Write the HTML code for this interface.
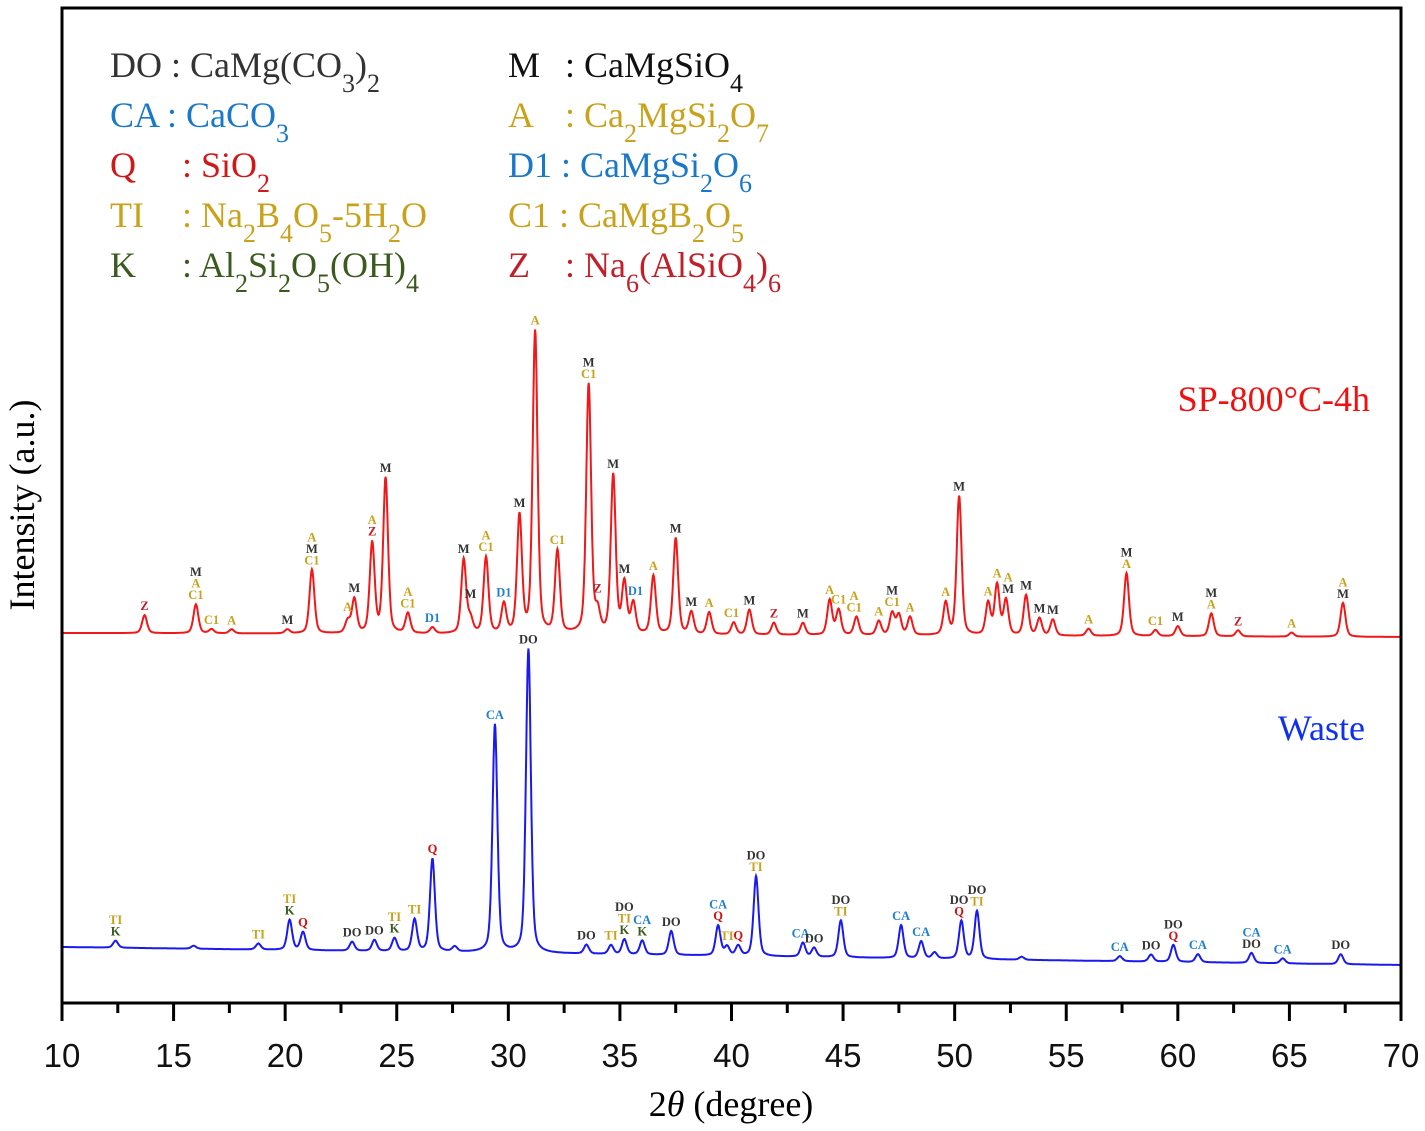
<!DOCTYPE html>
<html><head><meta charset="utf-8"><style>
body{margin:0;background:#fff}
svg{display:block}
.lg{font-family:"Liberation Serif",serif;font-size:36px}
.tk{font-family:"Liberation Sans",sans-serif;font-size:33px}
.pk{font-family:"Liberation Serif",serif;font-size:12.5px;font-weight:bold;text-anchor:middle}
</style></head><body>
<svg id="chart" width="1425" height="1131" viewBox="0 0 1425 1131" xmlns="http://www.w3.org/2000/svg">
<g class="lg">
<text x="110" y="77" fill="#333">DO : CaMg(CO<tspan baseline-shift="sub" font-size="26">3</tspan>)<tspan baseline-shift="sub" font-size="26">2</tspan></text>
<text x="110" y="127" fill="#1a78c8">CA : CaCO<tspan baseline-shift="sub" font-size="26">3</tspan></text>
<text x="110" y="177" fill="#d01818">Q<tspan x="182">: SiO</tspan><tspan baseline-shift="sub" font-size="26">2</tspan></text>
<text x="110" y="227" fill="#c9a21b">TI<tspan x="182">: Na</tspan><tspan baseline-shift="sub" font-size="26">2</tspan>B<tspan baseline-shift="sub" font-size="26">4</tspan>O<tspan baseline-shift="sub" font-size="26">5</tspan>-5H<tspan baseline-shift="sub" font-size="26">2</tspan>O</text>
<text x="110" y="277" fill="#3a5a1e">K<tspan x="182">: Al</tspan><tspan baseline-shift="sub" font-size="26">2</tspan>Si<tspan baseline-shift="sub" font-size="26">2</tspan>O<tspan baseline-shift="sub" font-size="26">5</tspan>(OH)<tspan baseline-shift="sub" font-size="26">4</tspan></text>
<text x="508" y="77" fill="#111">M<tspan x="565">: CaMgSiO</tspan><tspan baseline-shift="sub" font-size="26">4</tspan></text>
<text x="508" y="127" fill="#c9a21b">A<tspan x="565">: Ca</tspan><tspan baseline-shift="sub" font-size="26">2</tspan>MgSi<tspan baseline-shift="sub" font-size="26">2</tspan>O<tspan baseline-shift="sub" font-size="26">7</tspan></text>
<text x="508" y="177" fill="#1a78c8">D1 : CaMgSi<tspan baseline-shift="sub" font-size="26">2</tspan>O<tspan baseline-shift="sub" font-size="26">6</tspan></text>
<text x="508" y="227" fill="#c9a21b">C1 : CaMgB<tspan baseline-shift="sub" font-size="26">2</tspan>O<tspan baseline-shift="sub" font-size="26">5</tspan></text>
<text x="508" y="277" fill="#c0202a">Z<tspan x="565">: Na</tspan><tspan baseline-shift="sub" font-size="26">6</tspan>(AlSiO<tspan baseline-shift="sub" font-size="26">4</tspan>)<tspan baseline-shift="sub" font-size="26">6</tspan></text>
</g>
<text class="lg" x="1370" y="411" text-anchor="end" fill="#f01010">SP-800°C-4h</text>
<text class="lg" x="1365" y="740" text-anchor="end" fill="#1030f0">Waste</text>
<text class="lg" transform="translate(34,505) rotate(-90)" text-anchor="middle" fill="#000">Intensity (a.u.)</text>
<text class="lg" x="731" y="1116" text-anchor="middle" fill="#000">2<tspan font-style="italic">θ</tspan> (degree)</text>
<g id="plot"></g>
</svg>
<script>
const xTicks=[10,15,20,25,30,35,40,45,50,55,60,65,70];
const xTickLabels=["10","15","20","25","30","35","40","45","50","55","60","65","70"];
// red series peaks: 2theta, intensity (a.u.)
const redPos=[13.7,16.0,16.7,17.6,20.1,21.2,22.8,23.1,23.9,24.5,25.5,26.6,28.0,28.3,29.0,29.8,30.5,31.2,32.2,33.6,34.0,34.7,35.2,35.6,36.5,37.5,38.2,39.0,40.1,40.8,41.9,43.2,44.4,44.8,45.6,46.6,47.2,47.5,48.0,49.6,50.2,51.5,51.9,52.3,53.2,53.8,54.4,56.0,57.7,59.0,60.0,61.5,62.7,65.1,67.4];
const redInt=[18,29,4,4,4,64,12,34,90,155,20,6,74,14,76,29,117,302,82,249,20,158,50,30,58,96,22,22,12,25,12,12,35,25,18,14,22,20,18,32,139,32,50,35,40,17,16,7,63,6,10,23,6,4,34];
const redBase=[370,366];
// waste peaks
const wPos=[12.4,15.9,18.8,20.2,20.8,23.0,24.0,24.9,25.8,26.6,27.6,29.4,30.9,33.5,34.6,35.2,36.0,37.3,39.4,39.8,40.3,41.1,43.2,43.7,44.9,47.6,48.5,49.1,50.3,51.0,53.0,57.4,58.8,59.8,60.9,63.3,64.7,67.3];
const wInt=[7,3,6,30,18,9,11,13,32,93,5,228,304,9,9,15,14,24,30,9,10,80,14,9,37,33,17,6,38,48,3,5,7,17,8,10,5,10];
const wBase=[56,38];
const redLabels=[[13.7,"Z"],[16.0,"M|A|C1"],[16.7,"C1"],[17.6,"A"],[20.1,"M"],[21.2,"A|M|C1"],[22.8,"A"],[23.1,"M"],[23.9,"A|Z"],[24.5,"M"],[25.5,"A|C1"],[26.6,"D1"],[28.0,"M"],[28.3,"M"],[29.0,"A|C1"],[29.8,"D1"],[30.5,"M"],[31.2,"A"],[32.2,"C1"],[33.6,"M|C1"],[34.0,"Z"],[34.7,"M"],[35.2,"M"],[35.7,"D1"],[36.5,"A"],[37.5,"M"],[38.2,"M"],[39.0,"A"],[40.0,"C1"],[40.8,"M"],[41.9,"Z"],[43.2,"M"],[44.4,"A"],[44.8,"C1"],[45.5,"A|C1"],[46.6,"A"],[47.2,"M|C1"],[48.0,"A"],[49.6,"A"],[50.2,"M"],[51.5,"A"],[51.9,"A"],[52.4,"A|M"],[53.2,"M"],[53.8,"M"],[54.4,"M"],[56.0,"A"],[57.7,"M|A"],[59.0,"C1"],[60.0,"M"],[61.5,"M|A"],[62.7,"Z"],[65.1,"A"],[67.4,"A|M"]];
const wLabels=[[12.4,"TI|K"],[18.8,"TI"],[20.2,"TI|K"],[20.8,"Q"],[23.0,"DO"],[24.0,"DO"],[24.9,"TI|K"],[25.8,"TI"],[26.6,"Q"],[29.4,"CA"],[30.9,"DO"],[33.5,"DO"],[34.6,"TI"],[35.2,"DO|TI|K"],[36.0,"CA|K"],[37.3,"DO"],[39.4,"CA|Q"],[39.8,"TI"],[40.3,"Q"],[41.1,"DO|TI"],[43.1,"CA"],[43.7,"DO"],[44.9,"DO|TI"],[47.6,"CA"],[48.5,"CA"],[50.2,"DO|Q"],[51.0,"DO|TI"],[57.4,"CA"],[58.8,"DO"],[59.8,"DO|Q"],[60.9,"CA"],[63.3,"CA|DO"],[64.7,"CA"],[67.3,"DO"]];
const colors={DO:"#333",CA:"#1f7fd0",Q:"#d01010",TI:"#c9a21b",K:"#3a5a1e",M:"#333",A:"#c9a21b",D1:"#1f7fd0",C1:"#c9a21b",Z:"#c0202a"};

const L=62,R=1401,T=8,B=1003;
const X=v=>L+(v-10)/60*(R-L);
const Y=v=>B-v/995*(B-T);
const NS="http://www.w3.org/2000/svg";
const plot=document.getElementById('plot');
function mk(t,a){const e=document.createElementNS(NS,t);for(const k in a)e.setAttribute(k,a[k]);plot.appendChild(e);return e;}
function curve(x,pos,ints,base){let s=base[0]+(base[1]-base[0])*(x-10)/60;for(let i=0;i<pos.length;i++){const d=(x-pos[i])/0.13;s+=ints[i]*(0.6*Math.exp(-d*d/1.44)+0.4/(1+d*d));}return s;}
function line(pos,ints,base,col,name){let d="";for(let x=10;x<=70.001;x+=0.02){d+=(d?"L":"M")+X(x).toFixed(1)+","+Y(curve(x,pos,ints,base)).toFixed(1);}
const p=mk('path',{d:d,fill:"none",stroke:col,"stroke-width":2});

}
line(redPos,redInt,redBase,"#f01818","sp800-pattern");
line(wPos,wInt,wBase,"#1a1af0","waste-pattern");
function labels(arr,pos,ints,base,name){arr.forEach(l=>{let m=0;for(let x=l[0]-0.12;x<=l[0]+0.12;x+=0.02)m=Math.max(m,curve(x,pos,ints,base));const parts=l[1].split("|");let y=Y(m)-5;for(let j=parts.length-1;j>=0;j--){const t=mk('text',{x:X(l[0]).toFixed(1),y:y.toFixed(1),class:"pk",fill:colors[parts[j]]});t.textContent=parts[j];


y-=11.5;}});}
labels(redLabels,redPos,redInt,redBase,"sp800-peak-label");
labels(wLabels,wPos,wInt,wBase,"waste-peak-label");
const fr=mk('rect',{x:L,y:T,width:R-L,height:B-T,fill:"none",stroke:"#000","stroke-width":3});


xTicks.forEach((v,i)=>{const t=mk('line',{x1:X(v),x2:X(v),y1:B,y2:B+18,stroke:"#000","stroke-width":3});


if(i<xTicks.length-1){const m=mk('line',{x1:X(v+2.5),x2:X(v+2.5),y1:B,y2:B+10,stroke:"#000","stroke-width":3});

}
const lb=mk('text',{x:X(v),y:1067,class:"tk","text-anchor":"middle",fill:"#111"});lb.textContent=xTickLabels[i];

});
</script>
</body></html>
